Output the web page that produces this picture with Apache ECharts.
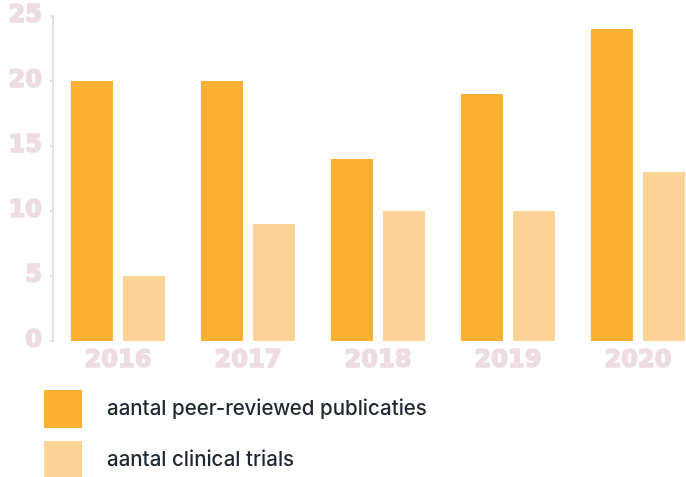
<!DOCTYPE html>
<html>
<head>
<meta charset="utf-8">
<script src="https://cdn.jsdelivr.net/npm/echarts@6/dist/echarts.min.js"></script>
<style>
  html, body { margin: 0; padding: 0; background: #fff; }
  #main { width: 686px; height: 477px; }
</style>
</head>
<body>
<div id="main"></div>
<script>
var years = ['2016', '2017', '2018', '2019', '2020'];
var publicaties = [20, 20, 14, 19, 24];
var trials = [5, 9, 10, 10, 13];
var yTicks = [0, 5, 10, 15, 20, 25];

var pink = '#EDDCE2';
// heavy, wide label look: bold face plus a thin same-colour outline
var labelFont = {
  fontFamily: 'DejaVu Sans',
  fontWeight: 'bold',
  fontSize: 24,
  color: pink,
  textBorderColor: pink,
  textBorderWidth: 1.6
};

var chart = echarts.init(document.getElementById('main'));
var option = {
  animation: false,
  grid: { left: 53, width: 650, top: 16, height: 325, outerBoundsMode: 'none', containLabel: false },
  legend: {
    orient: 'vertical',
    left: 44,
    top: 390,
    height: 120,
    padding: 0,
    itemWidth: 38,
    itemHeight: 38,
    itemGap: 13,
    icon: 'rect',
    textStyle: {
      fontFamily: 'Inter',
      fontSize: 20.5,
      fontWeight: 500,
      color: '#1e2833',
      padding: [0, 0, 0, 20]
    }
  },
  xAxis: {
    type: 'category',
    data: years,
    axisLine: { show: false },
    axisTick: { show: false },
    axisLabel: Object.assign({ margin: 8 }, labelFont)
  },
  yAxis: {
    type: 'value',
    min: yTicks[0],
    max: yTicks[yTicks.length - 1],
    interval: 5,
    splitLine: { show: false },
    axisLine: { show: true, lineStyle: { color: pink, width: 2 } },
    axisTick: { show: true, length: 3, lineStyle: { color: pink, width: 2 } },
    axisLabel: Object.assign({ margin: 11 }, labelFont)
  },
  series: [
    {
      name: 'aantal peer-reviewed publicaties',
      type: 'bar',
      data: publicaties,
      barWidth: 42,
      barGap: '24%',
      itemStyle: { color: '#FBB034' }
    },
    {
      name: 'aantal clinical trials',
      type: 'bar',
      data: trials,
      barWidth: 42,
      itemStyle: { color: '#FCD496' }
    }
  ]
};
chart.setOption(option);
</script>
</body>
</html>
